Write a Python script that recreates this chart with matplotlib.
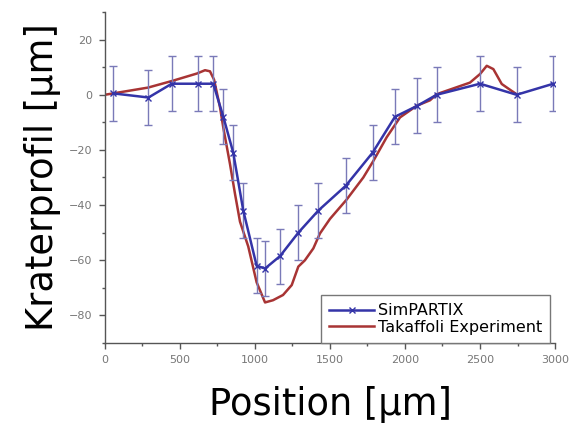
import numpy as np
import matplotlib.pyplot as plt
from matplotlib.ticker import MultipleLocator

# SimPARTIX simulation (points with error bars)
sim_x = [55, 290, 445, 618, 722, 789, 855, 922, 1011, 1067, 1167, 1289,
         1422, 1605, 1784, 1933, 2082, 2211, 2500, 2744, 2989]
sim_y = [0.5, -1, 4, 4, 4, -8, -21, -42, -62, -63, -58.5, -50,
         -42, -33, -21, -8, -4, 0, 4, 0, 4]
sim_err = [10] * len(sim_x)

# Takaffoli experiment (profile line)
exp_x = [0, 287, 447, 613, 667, 700, 727, 767, 789, 833, 867, 900, 955,
         1011, 1067, 1120, 1187, 1245, 1289, 1333, 1389, 1433, 1500, 1611,
         1722, 1789, 1878, 1967, 2078, 2167, 2211, 2433, 2500, 2545, 2589,
         2645, 2711, 2744]
exp_y = [0, 2.6, 5, 7.7, 8.9, 8.5, 5.5, -4.6, -12, -25, -36, -46, -55,
         -68, -75.3, -74.5, -72.6, -69, -62.3, -60, -55.7, -50.3, -45, -38,
         -30, -24, -15.4, -8.2, -4, -2, 0.2, 4.4, 7.5, 10.5, 9.3,
         3.9, 1.4, 0.2]

fig = plt.figure(figsize=(5.73, 4.29), dpi=100)
ax = fig.add_axes([0.1832, 0.2005, 0.7854, 0.7715])

ax.errorbar(sim_x, sim_y, yerr=sim_err, fmt='none', ecolor='#7a7ab8',
            elinewidth=1.0, capsize=3, capthick=1.0, zorder=3)
ax.plot(sim_x, sim_y, color='#3434a8', marker='x', markersize=5,
        markeredgewidth=1.0, linewidth=1.8, label='SimPARTIX', zorder=4)
ax.plot(exp_x, exp_y, color='#a83434', linewidth=1.8,
        label='Takaffoli Experiment', zorder=2)

ax.set_xlim(0, 3000)
ax.set_ylim(-90, 30)
ax.xaxis.set_major_locator(MultipleLocator(500))
ax.xaxis.set_minor_locator(MultipleLocator(250))
ax.yaxis.set_major_locator(MultipleLocator(20))
ax.yaxis.set_minor_locator(MultipleLocator(10))
ax.set_yticks([-80, -60, -40, -20, 0, 20])

for s in ['top', 'right']:
    ax.spines[s].set_visible(False)
for s in ['left', 'bottom']:
    ax.spines[s].set_color('#555555')
    ax.spines[s].set_linewidth(1.0)

ax.tick_params(which='major', direction='out', length=4, width=1,
               color='#555555', labelsize=8, labelcolor='#777777', pad=5)
ax.tick_params(which='minor', direction='out', length=2.5, width=1,
               color='#555555')

ax.set_xlabel('Position [µm]', fontsize=26.5, labelpad=15)
ax.set_ylabel('Kraterprofil [µm]', fontsize=26.5, labelpad=6)

leg = ax.legend(loc='lower right', bbox_to_anchor=(0.9895, 0.0),
                borderaxespad=0, fontsize=11.5, handlelength=2.8,
                handletextpad=0.25, fancybox=False, framealpha=1,
                edgecolor='#777777', borderpad=0.5, labelspacing=0.1)
leg.get_frame().set_linewidth(1.0)

fig.savefig('out.png', dpi=100)
